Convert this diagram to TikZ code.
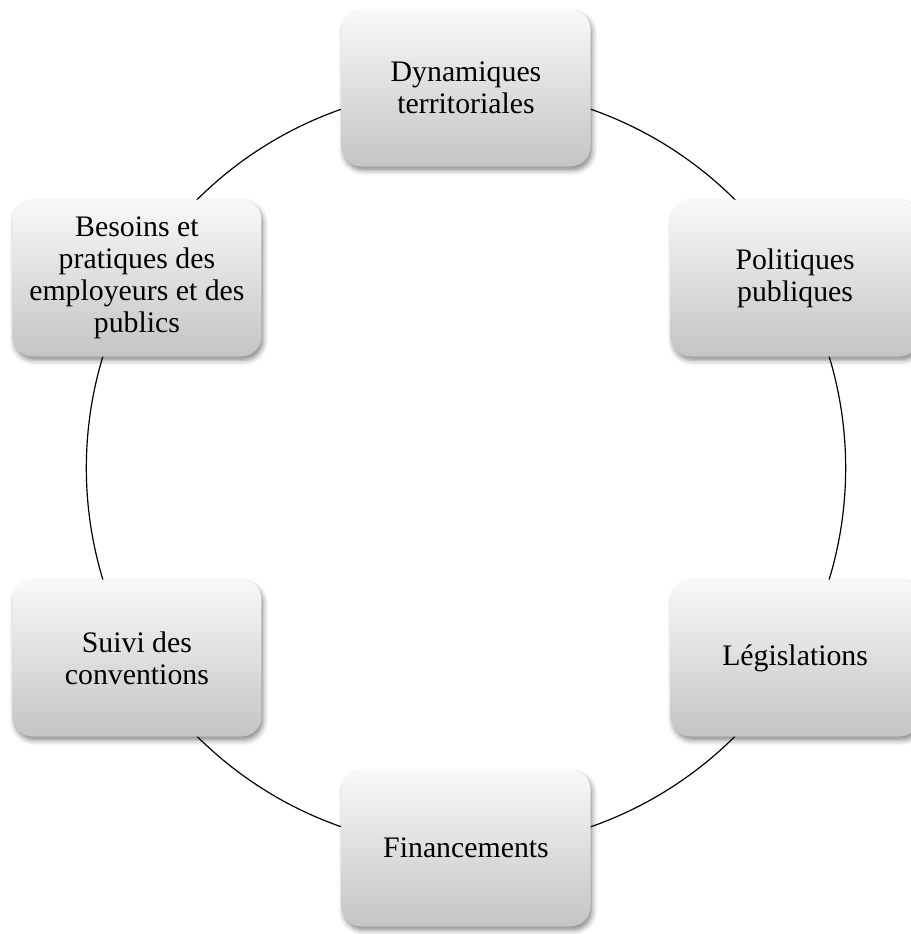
\documentclass[tikz,border=0pt]{standalone}
\usepackage{fontspec}
\setmainfont{Liberation Serif}
\usetikzlibrary{shadows.blur,backgrounds}
\definecolor{boxtop}{RGB}{249,249,249}
\definecolor{boxbot}{RGB}{196,196,196}
\tikzset{
  cyclebox/.style={rectangle, rounded corners=20pt, minimum width=249pt, minimum height=157pt,
    top color=boxtop, bottom color=boxbot, align=center, inner sep=4pt,
    font=\fontsize{29.8}{32}\selectfont,
    blur shadow={shadow xshift=2pt, shadow yshift=-4pt, shadow blur radius=5pt, shadow opacity=45}},
  ring/.style={line width=1.2pt, black, bend left=30, looseness=0.91}
}
\begin{document}
\begin{tikzpicture}[x=1pt,y=-1pt]
\useasboundingbox (0,0) rectangle (910,934);
\node[cyclebox] (dyn) at (466,88) {Dynamiques\\territoriales};
\node[cyclebox] (pol) at (795.1,278) {Politiques\\publiques};
\node[cyclebox] (leg) at (795.1,658) {Législations};
\node[cyclebox] (fin) at (466,848) {Financements};
\node[cyclebox] (sui) at (136.9,658) {Suivi des\\conventions};
\node[cyclebox] (bes) at (136.9,278) {Besoins et\\pratiques des\\employeurs et des\\publics};
\begin{scope}[on background layer]
\draw[ring] (dyn.center) to (pol.center);
\draw[ring] (pol.center) to (leg.center);
\draw[ring] (leg.center) to (fin.center);
\draw[ring] (fin.center) to (sui.center);
\draw[ring] (sui.center) to (bes.center);
\draw[ring] (bes.center) to (dyn.center);
\end{scope}
\end{tikzpicture}
\end{document}
